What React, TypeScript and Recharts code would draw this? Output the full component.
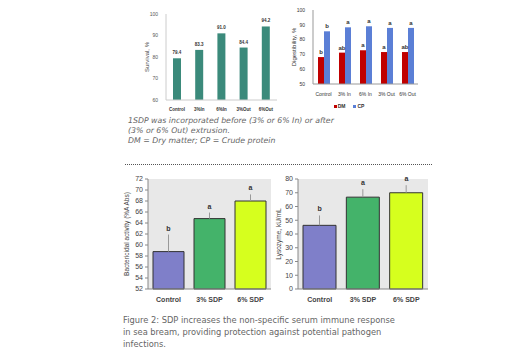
import React from "react";
import {
  Bar,
  BarChart,
  Cell,
  ComposedChart,
  ErrorBar,
  LabelList,
  Legend,
  Line,
  XAxis,
  YAxis,
} from "recharts";

// survival (top left)
const survivalCats = ["Control", "3%In", "6%In", "3%Out", "6%Out"];
const survivalVals = [79.4, 83.3, 91.0, 84.4, 94.2];

// digestibility (top right)
const digestCats = ["Control", "3% In", "6% In", "3% Out", "6% Out"];
const dmVals = [68.2, 71.2, 72.8, 71.6, 71.6];
const cpVals = [85.6, 88.3, 89.0, 87.9, 87.9];
const dmLetters = ["b", "ab", "a", "a", "ab"];
const cpLetters = ["b", "a", "a", "a", "a"];

// serum immune response (bottom)
const immuneCats = ["Control", "3% SDP", "6% SDP"];
const bactVals = [58.8, 64.8, 68.0];
const bactErr = [3.1, 1.1, 1.2];
const lysoVals = [46.3, 66.8, 70.0];
const lysoErr = [7.2, 5.8, 5.5];
const immuneLetters = ["b", "a", "a"];
const immuneColors = ["#7f7fc9", "#44b36a", "#d6ff1e"];

const survivalData = survivalCats.map((name, i) => ({ name, value: survivalVals[i] }));
const digestData = digestCats.map((name, i) => ({
  name,
  DM: dmVals[i],
  CP: cpVals[i],
  dmL: dmLetters[i],
  cpL: cpLetters[i],
}));
const bactData = immuneCats.map((name, i) => ({
  name,
  value: bactVals[i],
  err: [0, bactErr[i]],
  top: bactVals[i] + bactErr[i],
  letter: immuneLetters[i],
}));
const lysoData = immuneCats.map((name, i) => ({
  name,
  value: lysoVals[i],
  err: [0, lysoErr[i]],
  top: lysoVals[i] + lysoErr[i],
  letter: immuneLetters[i],
}));

const font = "'Liberation Sans', Arial, sans-serif";
const capFont = "'DejaVu Sans', sans-serif";

const digestLegend = [
  { name: "DM", color: "#c00000" },
  { name: "CP", color: "#5b7fd6" },
];

function DigestLegend() {
  return (
    <div
      style={{
        display: "flex",
        justifyContent: "center",
        gap: 8,
        paddingTop: 7,
        fontSize: 5,
        fontWeight: 700,
        fontFamily: font,
        color: "#333",
      }}
    >
      {digestLegend.map((l) => (
        <span key={l.name} style={{ display: "flex", alignItems: "center", gap: 1 }}>
          <span style={{ width: 3, height: 3, background: l.color, display: "inline-block" }} />
          {l.name}
        </span>
      ))}
    </div>
  );
}

function ImmuneChart({
  data,
  left,
  yWidth,
  width,
  domain,
  ticks,
  label,
  labelDx,
  barSize,
}: {
  data: typeof bactData;
  left: number;
  yWidth: number;
  width: number;
  domain: [number, number];
  ticks: number[];
  label: string;
  labelDx: number;
  barSize: number;
}) {
  return (
    <div style={{ position: "absolute", left, top: 170 }}>
      <ComposedChart width={width} height={136} data={data} margin={{ top: 9, right: 0, left: 0, bottom: 0 }}>
        <XAxis
          dataKey="name"
          height={17}
          axisLine={{ stroke: "#888" }}
          tickLine={false}
          tick={{ fill: "#444", fontSize: 7, fontWeight: 700, fontFamily: font }}
        />
        <YAxis
          width={yWidth}
          domain={domain}
          ticks={ticks}
          interval={0}
          axisLine={{ stroke: "#888" }}
          tickLine={{ stroke: "#888" }}
          tickSize={3}
          tick={{ fill: "#444", fontSize: 7, fontFamily: font }}
          label={{
            value: label,
            angle: -90,
            position: "insideLeft",
            dx: labelDx,
            style: { textAnchor: "middle", fill: "#444", fontSize: 6.5, fontFamily: font },
          }}
        />
        <Bar dataKey="value" barSize={barSize} stroke="#333" strokeWidth={1} isAnimationActive={false}>
          {data.map((d, i) => (
            <Cell key={i} fill={immuneColors[i]} />
          ))}
          <ErrorBar dataKey="err" width={0} stroke="#999" strokeWidth={1} direction="y" />
        </Bar>
        <Line dataKey="top" stroke="none" dot={false} activeDot={false} isAnimationActive={false}>
          <LabelList
            dataKey="letter"
            position="top"
            offset={4}
            style={{ fill: "#333", fontSize: 7, fontWeight: 700, fontFamily: font }}
          />
        </Line>
      </ComposedChart>
    </div>
  );
}

export default function App() {
  return (
    <div
      style={{
        position: "absolute",
        left: 0,
        top: 0,
        width: 527,
        height: 354,
        background: "#fff",
        overflow: "hidden",
      }}
    >
      {/* survival */}
      <div style={{ position: "absolute", left: 130, top: 0 }}>
        <BarChart width={147} height={114} data={survivalData} margin={{ top: 14, right: 0, left: 0, bottom: 0 }}>
          <XAxis
            dataKey="name"
            height={14}
            interval={0}
            axisLine={{ stroke: "#ccc" }}
            tickLine={false}
            tick={{ fill: "#333", fontSize: 4.5, fontWeight: 700, fontFamily: font }}
          />
          <YAxis
            width={36}
            domain={[60, 100]}
            ticks={[60, 70, 80, 90, 100]}
            axisLine={{ stroke: "#ccc" }}
            tickLine={false}
            tick={{ fill: "#555", fontSize: 5, fontFamily: font }}
            label={{
              value: "Survival, %",
              angle: -90,
              position: "insideLeft",
              dx: 12,
              style: { textAnchor: "middle", fill: "#444", fontSize: 6, fontFamily: font },
            }}
          />
          <Bar dataKey="value" fill="#3b8a7b" barSize={8} isAnimationActive={false}>
            <LabelList
              dataKey="value"
              position="top"
              offset={4}
              formatter={(v: number) => v.toFixed(1)}
              style={{ fill: "#333", fontSize: 4.5, fontWeight: 700, fontFamily: font }}
            />
          </Bar>
        </BarChart>
      </div>

      {/* digestibility */}
      <div style={{ position: "absolute", left: 280, top: 0 }}>
        <BarChart
          width={138}
          height={116}
          data={digestData}
          barGap={0}
          margin={{ top: 10, right: 0, left: 0, bottom: 2 }}
        >
          <XAxis
            dataKey="name"
            height={12}
            interval={0}
            axisLine={{ stroke: "#999" }}
            tickLine={false}
            tick={{ fill: "#333", fontSize: 5, fontFamily: font }}
          />
          <YAxis
            width={33}
            domain={[50, 100]}
            ticks={[50, 60, 70, 80, 90, 100]}
            axisLine={{ stroke: "#999" }}
            tickLine={false}
            tick={{ fill: "#333", fontSize: 5, fontFamily: font }}
            label={{
              value: "Digestibility, %",
              angle: -90,
              position: "insideLeft",
              dx: 9,
              style: { textAnchor: "middle", fill: "#333", fontSize: 6, fontFamily: font },
            }}
          />
          <Legend verticalAlign="bottom" height={18} content={() => <DigestLegend />} />
          <Bar dataKey="DM" fill="#c00000" barSize={6} isAnimationActive={false}>
            <LabelList
              dataKey="dmL"
              position="top"
              offset={3}
              style={{ fill: "#333", fontSize: 6, fontWeight: 700, fontFamily: font }}
            />
          </Bar>
          <Bar dataKey="CP" fill="#5b7fd6" barSize={6} isAnimationActive={false}>
            <LabelList
              dataKey="cpL"
              position="top"
              offset={3}
              style={{ fill: "#333", fontSize: 6, fontWeight: 700, fontFamily: font }}
            />
          </Bar>
        </BarChart>
      </div>

      {/* footnote */}
      <div
        style={{
          position: "absolute",
          left: 128,
          top: 116,
          fontFamily: capFont,
          fontStyle: "italic",
          fontSize: 7.8,
          lineHeight: "10px",
          color: "#666",
          whiteSpace: "nowrap",
        }}
      >
        <div>1SDP was incorporated before (3% or 6% In) or after</div>
        <div>(3% or 6% Out) extrusion.</div>
        <div>DM = Dry matter; CP = Crude protein</div>
      </div>

      <div
        style={{
          position: "absolute",
          left: 125,
          top: 164,
          width: 307,
          borderTop: "1px dotted #555",
        }}
      />

      {/* plot backgrounds */}
      <div style={{ position: "absolute", left: 148, top: 179, width: 123, height: 110, background: "#e8e8e8" }} />
      <div style={{ position: "absolute", left: 298, top: 179, width: 130, height: 110, background: "#e8e8e8" }} />

      <ImmuneChart
        data={bactData}
        left={100}
        yWidth={48}
        width={171}
        domain={[52, 72]}
        ticks={[52, 54, 56, 58, 60, 62, 64, 66, 68, 70, 72]}
        label="Bactericidal activity (%A Abs)"
        labelDx={22}
        barSize={31}
      />
      <ImmuneChart
        data={lysoData}
        left={258}
        yWidth={40}
        width={170}
        domain={[0, 80]}
        ticks={[0, 10, 20, 30, 40, 50, 60, 70, 80]}
        label="Lysozyme, kU/mL"
        labelDx={16}
        barSize={33}
      />

      {/* figure caption */}
      <div
        style={{
          position: "absolute",
          left: 123,
          top: 314,
          fontFamily: capFont,
          fontSize: 8.3,
          lineHeight: "12px",
          color: "#666",
          whiteSpace: "nowrap",
        }}
      >
        <div>Figure 2: SDP increases the non-specific serum immune response</div>
        <div>in sea bream, providing protection against potential pathogen</div>
        <div>infections.</div>
      </div>
    </div>
  );
}
